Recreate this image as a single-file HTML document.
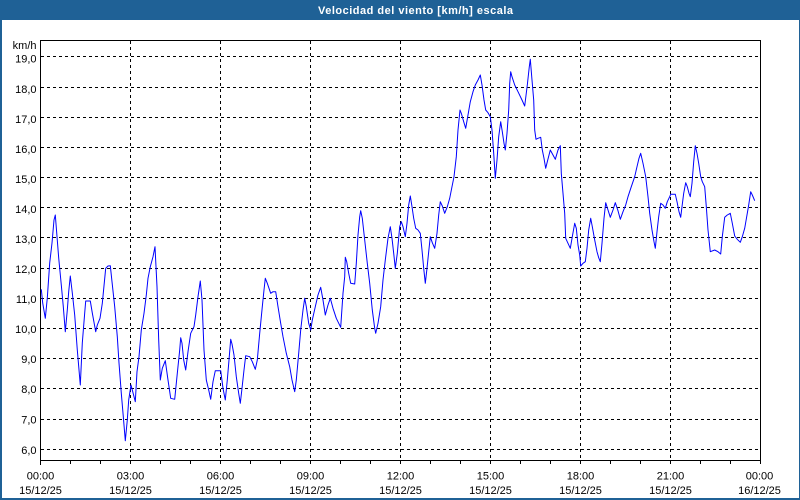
<!DOCTYPE html>
<html>
<head>
<meta charset="utf-8">
<style>
html,body{margin:0;padding:0;background:#fff;}
body{width:800px;height:500px;overflow:hidden;}
svg{display:block;font-family:"Liberation Sans",sans-serif;}
</style>
</head>
<body>
<svg width="800" height="500" viewBox="0 0 800 500" xmlns="http://www.w3.org/2000/svg">
  <rect x="0" y="0" width="800" height="500" fill="#ffffff"/>
  <!-- frame -->
  <rect x="0" y="0" width="800" height="20" fill="#1f6196"/>
  <rect x="0" y="0" width="2" height="500" fill="#1f6196"/>
  <rect x="799" y="0" width="1" height="500" fill="#1f6196"/>
  <rect x="0" y="498" width="800" height="2" fill="#1f6196"/>
  <text x="318" y="14" font-size="11" font-weight="bold" fill="#ffffff" textLength="195" lengthAdjust="spacing">Velocidad del viento [km/h] escala</text>

  <!-- horizontal grid -->
  <g stroke="#000" stroke-width="1" stroke-dasharray="3,3" fill="none">
    <line x1="41" y1="56.5" x2="760" y2="56.5"/>
    <line x1="41" y1="87.5" x2="760" y2="87.5"/>
    <line x1="41" y1="117.5" x2="760" y2="117.5"/>
    <line x1="41" y1="147.5" x2="760" y2="147.5"/>
    <line x1="41" y1="177.5" x2="760" y2="177.5"/>
    <line x1="41" y1="207.5" x2="760" y2="207.5"/>
    <line x1="41" y1="237.5" x2="760" y2="237.5"/>
    <line x1="41" y1="268.5" x2="760" y2="268.5"/>
    <line x1="41" y1="298.5" x2="760" y2="298.5"/>
    <line x1="41" y1="328.5" x2="760" y2="328.5"/>
    <line x1="41" y1="358.5" x2="760" y2="358.5"/>
    <line x1="41" y1="388.5" x2="760" y2="388.5"/>
    <line x1="41" y1="419.5" x2="760" y2="419.5"/>
    <line x1="41" y1="449.5" x2="760" y2="449.5"/>
    <!-- vertical grid -->
    <line x1="130.5" y1="41" x2="130.5" y2="460"/>
    <line x1="220.5" y1="41" x2="220.5" y2="460"/>
    <line x1="310.5" y1="41" x2="310.5" y2="460"/>
    <line x1="400.5" y1="41" x2="400.5" y2="460"/>
    <line x1="490.5" y1="41" x2="490.5" y2="460"/>
    <line x1="580.5" y1="41" x2="580.5" y2="460"/>
    <line x1="670.5" y1="41" x2="670.5" y2="460"/>
  </g>

  <!-- plot border -->
  <rect x="40.5" y="40.5" width="720" height="420" fill="none" stroke="#000" stroke-width="1"/>

  <!-- ticks -->
  <g stroke="#000" stroke-width="1">
    <line x1="40.5" y1="460" x2="40.5" y2="465"/>
    <line x1="70.5" y1="460" x2="70.5" y2="464"/>
    <line x1="100.5" y1="460" x2="100.5" y2="464"/>
    <line x1="130.5" y1="460" x2="130.5" y2="464"/>
    <line x1="160.5" y1="460" x2="160.5" y2="464"/>
    <line x1="190.5" y1="460" x2="190.5" y2="464"/>
    <line x1="220.5" y1="460" x2="220.5" y2="464"/>
    <line x1="250.5" y1="460" x2="250.5" y2="464"/>
    <line x1="280.5" y1="460" x2="280.5" y2="464"/>
    <line x1="310.5" y1="460" x2="310.5" y2="464"/>
    <line x1="340.5" y1="460" x2="340.5" y2="464"/>
    <line x1="370.5" y1="460" x2="370.5" y2="464"/>
    <line x1="400.5" y1="460" x2="400.5" y2="464"/>
    <line x1="430.5" y1="460" x2="430.5" y2="464"/>
    <line x1="460.5" y1="460" x2="460.5" y2="464"/>
    <line x1="490.5" y1="460" x2="490.5" y2="464"/>
    <line x1="520.5" y1="460" x2="520.5" y2="464"/>
    <line x1="550.5" y1="460" x2="550.5" y2="464"/>
    <line x1="580.5" y1="460" x2="580.5" y2="464"/>
    <line x1="610.5" y1="460" x2="610.5" y2="464"/>
    <line x1="640.5" y1="460" x2="640.5" y2="464"/>
    <line x1="670.5" y1="460" x2="670.5" y2="464"/>
    <line x1="700.5" y1="460" x2="700.5" y2="464"/>
    <line x1="730.5" y1="460" x2="730.5" y2="464"/>
    <line x1="760.5" y1="460" x2="760.5" y2="464"/>
  </g>

  <!-- y labels -->
  <g font-size="11" fill="#000" text-anchor="end">
    <text x="36.5" y="49">km/h</text>
    <text x="36.5" y="62.5">19,0</text>
    <text x="36.5" y="93">18,0</text>
    <text x="36.5" y="123">17,0</text>
    <text x="36.5" y="153">16,0</text>
    <text x="36.5" y="183">15,0</text>
    <text x="36.5" y="213">14,0</text>
    <text x="36.5" y="243">13,0</text>
    <text x="36.5" y="273">12,0</text>
    <text x="36.5" y="303">11,0</text>
    <text x="36.5" y="333">10,0</text>
    <text x="36.5" y="363">9,0</text>
    <text x="36.5" y="393">8,0</text>
    <text x="36.5" y="423.5">7,0</text>
    <text x="36.5" y="454">6,0</text>
  </g>

  <!-- x labels -->
  <g font-size="11" fill="#000" text-anchor="middle">
    <text x="40.5" y="479.5">00:00</text><text x="40.5" y="494">15/12/25</text>
    <text x="130.5" y="479.5">03:00</text><text x="130.5" y="494">15/12/25</text>
    <text x="220.5" y="479.5">06:00</text><text x="220.5" y="494">15/12/25</text>
    <text x="310.5" y="479.5">09:00</text><text x="310.5" y="494">15/12/25</text>
    <text x="400.5" y="479.5">12:00</text><text x="400.5" y="494">15/12/25</text>
    <text x="490.5" y="479.5">15:00</text><text x="490.5" y="494">15/12/25</text>
    <text x="580.5" y="479.5">18:00</text><text x="580.5" y="494">15/12/25</text>
    <text x="670.5" y="479.5">21:00</text><text x="670.5" y="494">15/12/25</text>
    <text x="759.5" y="479.5">00:00</text><text x="759.5" y="494">16/12/25</text>
  </g>

  <!-- series -->
  <polyline fill="none" stroke="#0000ff" stroke-width="1" stroke-linejoin="round" points="
41.3,289.3 42.7,303 45.3,318.3 47.3,298 49.7,263 52,243 54,220 55.3,215 58.7,258 61.3,285 63.3,306.7 65.3,331.7 67.3,310 68.7,291.7 70.3,276 72.3,293 74.7,315 77.3,350 80.3,385 82.3,343 84.7,313 85.7,301 90.3,301 92.3,313 95.7,331.7 97.3,325 100,318.3 102.3,303.3 105.7,268.3 108,266 110.3,265.7 112,281.7 114.7,306.7 117.3,336.7 119,363 121.3,393.3 123.3,416.7 125.3,440.7 127.3,420 128.7,400 131,385 132.3,390 135.3,401.7 137,371.7 139,356.7 141.3,330 144,313.3 146.3,295 148,278.3 150.3,266.7 153,256.7 155,246.7 157,286.7 158.7,340 160.3,380 162.3,368.3 165.3,360.7 168,380 170.7,398.3 174.7,399.3 177.3,373.3 179.7,350 180.7,337.7 182,343.3 183.7,360 185.7,370 188,351.7 190.7,333.3 194,326.7 195.7,315 198,296.7 200.3,281 202,300 204,350 206.3,380 208.7,390 210.7,399.3 213,381.7 215.3,370.7 220.7,370.7 223,388.3 225.3,400 227.3,380
229,360 230.7,339.3 232,344 234,355 236.3,376.7 238.7,393.3 240.3,403.3 242,388.3 244,370 245.7,355.7 249.7,356.7 252.3,361.7 255.3,369.3 257.3,360 259.7,333.3 262.3,306.7 264,290 265.3,278.3 267.3,283.3 270.7,293.3 273,291.7 275.7,291.7 278,306.7 280.7,323.3 283,336.7 286.3,353.3 289.7,366.7 292,380 294.7,391.7 296.3,380 298.7,353.3 300.7,330 303,310 304.7,298.3 306.3,306.7 308.7,323.3 310.7,330 312.3,320 315.3,306.7 318,295 320.7,287.3 323,300 325.3,315 328,305 330.3,298.3 333,308.3 336.3,318.3 340.7,327.3 343,293.3 344.7,276.7 345.3,257.3 346.7,261.7 348.7,273.3 350.7,283.3 354.7,284 356.3,263.3 358,235 359.7,216.7 360.7,210.7 362.3,218.3 364.7,240 367.3,263.3 369.7,283.3 372.3,310 374.7,328.3 375.7,333.3 378,323.3 380.7,306.7 383,280 385.3,260 388,238.3 390.3,226.7 392,238.3 393.7,253.3 395.3,268.3 397.3,253.3 399.7,226.7
401.3,221.7 403,226.7 405.3,236.7 407,223.3 408.7,205 410.3,196 412,206.7 413.7,218.3 415.7,228.3 418,230 420.3,233.3 422,250 423.7,268.3 425.3,283.3 427,268.3 428.7,251.7 430.3,236.7 432.3,242.7 434.7,248.3 437,233.3 438.7,215 440.3,201.7 442.3,206 444.7,213.3 447.3,206.7 449.7,198.3 452,186.7 454,176.7 456.3,156.7 458,130 460,110 461.3,113.3 463.7,121.7 465.7,128.3 468,115 470.3,101.7 473,91.7 475.3,85 478,80 480.3,75 482,85 484,100 485.7,110 488,112.7 490.3,116.7 492,130 493.7,153.3 495.3,178.3 497,160 498.7,136.7 500.7,121.7 502.3,131.7 504,143.3 505.3,150 507,133.3 508.7,110 509.7,83.3 510.7,71.7 512,76.7 514.7,85 518,91.7 522,100 524.7,106 527.3,85 529.3,66.7 530.3,59.3 532,80 533.7,100 534.7,130 536,139.3 538,138.3 540.7,137.3 542.3,150 544,158.3 545.7,168.3 547.3,161.7 550.3,150 553,155 555.3,159.3 558,150 560.3,145.7 561.3,173.3 563,193.3 564.7,213.3 565.7,238.3 568,243.3 570.3,248.3 572.3,236.7 574.7,223.3 576.3,228.3 578,245 579.7,255 580.7,266
583,263.3 585.3,261.7 587,248.3 588.7,230 590.7,218.3 592.3,226.7 594.7,240 597,251.7 598.7,257.7 600.3,261.7 602,243.3 604,218.3 605.7,202.7 608,210 610.3,217.3 613,210 615.3,202.7 618,210.7 620.3,219.3 623,211.7 625.7,205 628,196.7 631.3,186.7 634.7,176.7 637,166.7 639,158.3 640.7,153.3 643,163.3 645.7,176.7 648,196.7 649.7,213.3 652,230 654,241.7 655.3,248.3 657,231.7 658.7,216.7 660.7,203.3 663,205 665.3,208.3 667.3,201.7 669.7,196.7 670.7,194.3 675.3,194.3 677,201.7 679,211.7 680.7,217.3 682,206.7 683.7,193.3 685.7,182.7 687.3,186.7 689,193.3 690.3,196.7 692,183.3 693.7,161.7 695.3,145.7 697,153.3 698.7,163.3 700.7,176.7 702.3,181.7 704.7,186.7 706.3,206.7 708,230 710.3,251.7 714.7,250 718,251.7 720.7,254 722.3,236.7 724.7,217.3 727.3,215 730.3,213.3 732.3,223.3 734.7,236 737.3,239.3 740.3,242.3 742.3,236.7 744.7,228.3 746.7,216.7 748.7,205 750.7,191.7 752.3,195 754.7,200.7"/>
</svg>
</body>
</html>
